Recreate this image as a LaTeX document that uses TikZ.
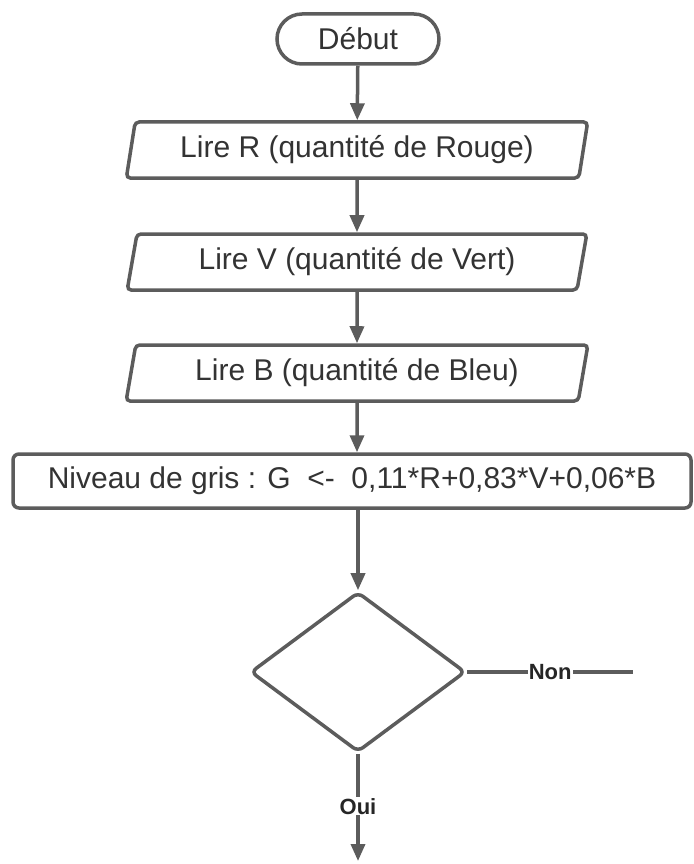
\documentclass[tikz,border=0pt]{standalone}
\usepackage{fontspec}
\setmainfont{Liberation Sans}
\usetikzlibrary{shapes.geometric,shapes.misc,arrows.meta}
\definecolor{linegray}{HTML}{5C5C5C}
\definecolor{textgray}{HTML}{333333}
\begin{document}
\begin{tikzpicture}[x=1pt,y=-1pt,
  every node/.style={text=textgray,font=\fontsize{30}{36}\selectfont},
  box/.style={draw=linegray,line width=3.5pt,fill=white,inner sep=0pt},
  terminal/.style={box,rounded rectangle,minimum width=162pt,minimum height=50pt},
  io/.style={box,trapezium,trapezium left angle=76,trapezium right angle=104,
    trapezium stretches=true,minimum width=462pt,minimum height=56pt,rounded corners=4pt},
  process/.style={box,rectangle,minimum width=678pt,minimum height=54pt,rounded corners=6pt},
  decision/.style={box,diamond,minimum width=215pt,minimum height=160pt,rounded corners=6pt},
  flow/.style={draw=linegray,line width=3.5pt,-{Triangle[width=14pt,length=17pt]}},
  plain/.style={draw=linegray,line width=3.5pt},
  branch/.style={fill=white,inner sep=1pt,font=\bfseries\fontsize{22}{26}\selectfont,text=black!85}
]
\useasboundingbox (0,0) rectangle (693,864);

\node[terminal] (debut) at (358,39) {Début};
\node[io] (lireR) at (357,150) {Lire R (quantité de Rouge)};
\node[io] (lireV) at (357,262) {Lire V (quantité de Vert)};
\node[io] (lireB) at (357,373) {Lire B (quantité de Bleu)};
\node[process] (gris) at (352,481) {Niveau de gris : G \ <- \ 0,11*R+0,83*V+0,06*B};
\node[decision] (test) at (358,672) {};

\coordinate (nonEnd) at (633,672);
\coordinate (ouiEnd) at (358,861);

\draw[flow] (debut) -- (lireR);
\draw[flow] (lireR) -- (lireV);
\draw[flow] (lireV) -- (lireB);
\draw[flow] (lireB) -- (gris.north -| lireB);
\draw[flow] (gris.south -| test) -- (test);

\draw[plain] (test.east) -- node[branch,pos=0.5] (non) {Non} (nonEnd);
\draw[flow] (test.south) -- node[branch,pos=0.49] (oui) {Oui} (ouiEnd);
\end{tikzpicture}
\end{document}
